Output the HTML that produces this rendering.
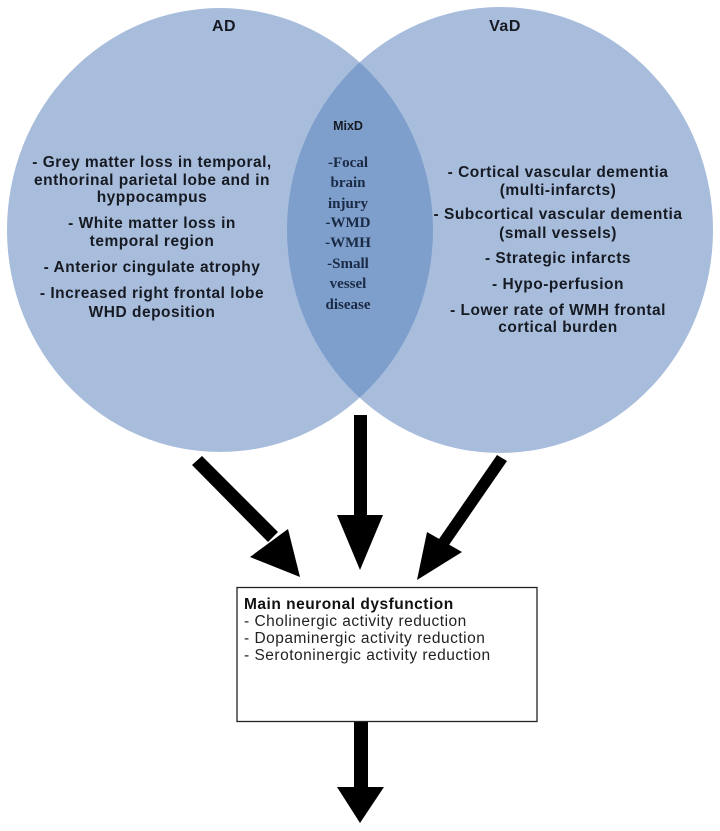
<!DOCTYPE html>
<html><head><meta charset="utf-8"><style>
html,body{margin:0;padding:0;background:#fff;}
svg{display:block;}
.s{font-family:"Liberation Sans",Arial,sans-serif;font-weight:bold;font-size:15.5px;letter-spacing:0.5px;fill:#161a22;text-anchor:middle;}
.m{font-family:"Liberation Serif",serif;font-weight:bold;font-size:15px;fill:#1a2a44;text-anchor:middle;}
.b{font-family:"Liberation Sans",Arial,sans-serif;font-size:15.5px;letter-spacing:0.5px;fill:#222;}
</style></head><body>
<svg width="720" height="831" viewBox="0 0 720 831" xmlns="http://www.w3.org/2000/svg">
<defs>
<clipPath id="cl"><ellipse cx="220" cy="230" rx="213" ry="222"/></clipPath>
</defs>
<ellipse cx="220" cy="230" rx="213" ry="222" fill="#a8bddc"/>
<ellipse cx="500" cy="230" rx="213" ry="223" fill="#a8bddc"/>
<ellipse cx="500" cy="230" rx="213" ry="223" fill="#7e9ecb" clip-path="url(#cl)"/>

<text class="s" x="224" y="31" style="font-size:16px">AD</text>
<text class="s" x="505" y="31" style="font-size:16px">VaD</text>

<text class="s" x="152" y="167">- Grey matter loss in temporal,</text>
<text class="s" x="152" y="185">enthorinal parietal lobe and in</text>
<text class="s" x="152" y="202">hyppocampus</text>
<text class="s" x="152" y="228">- White matter loss in</text>
<text class="s" x="152" y="246">temporal region</text>
<text class="s" x="152" y="272">- Anterior cingulate atrophy</text>
<text class="s" x="152" y="298">- Increased right frontal lobe</text>
<text class="s" x="152" y="317">WHD deposition</text>

<text class="s" x="558" y="177">- Cortical vascular dementia</text>
<text class="s" x="558" y="195">(multi-infarcts)</text>
<text class="s" x="558" y="219">- Subcortical vascular dementia</text>
<text class="s" x="558" y="238">(small vessels)</text>
<text class="s" x="558" y="263">- Strategic infarcts</text>
<text class="s" x="558" y="289">- Hypo-perfusion</text>
<text class="s" x="558" y="315">- Lower rate of WMH frontal</text>
<text class="s" x="558" y="332">cortical burden</text>

<text class="s" x="348" y="130" style="font-size:12.5px;letter-spacing:0">MixD</text>
<text class="m" x="348" y="167">-Focal</text>
<text class="m" x="348" y="187">brain</text>
<text class="m" x="348" y="208">injury</text>
<text class="m" x="348" y="227">-WMD</text>
<text class="m" x="348" y="247">-WMH</text>
<text class="m" x="348" y="268">-Small</text>
<text class="m" x="348" y="288">vessel</text>
<text class="m" x="348" y="309">disease</text>

<g fill="#000">
<rect x="354" y="415" width="13" height="102"/>
<polygon points="337,515 383,515 360,570"/>
<polygon points="192,465 202,456 278,532 268,542"/>
<polygon points="250,557 288,529 300,577"/>
<polygon points="507,461 497,455 439,539 449,545"/>
<polygon points="427,532 462,552 417,580"/>
<rect x="354" y="722" width="14" height="68"/>
<polygon points="337,787 384,787 360,823"/>
</g>
<rect x="237" y="587.5" width="300" height="134" fill="#fff" stroke="#222" stroke-width="1.3"/>
<text class="b" x="244" y="609" style="font-weight:bold;fill:#111">Main neuronal dysfunction</text>
<text class="b" x="244" y="626">- Cholinergic activity reduction</text>
<text class="b" x="244" y="643">- Dopaminergic activity reduction</text>
<text class="b" x="244" y="660">- Serotoninergic activity reduction</text>
</svg>
</body></html>
